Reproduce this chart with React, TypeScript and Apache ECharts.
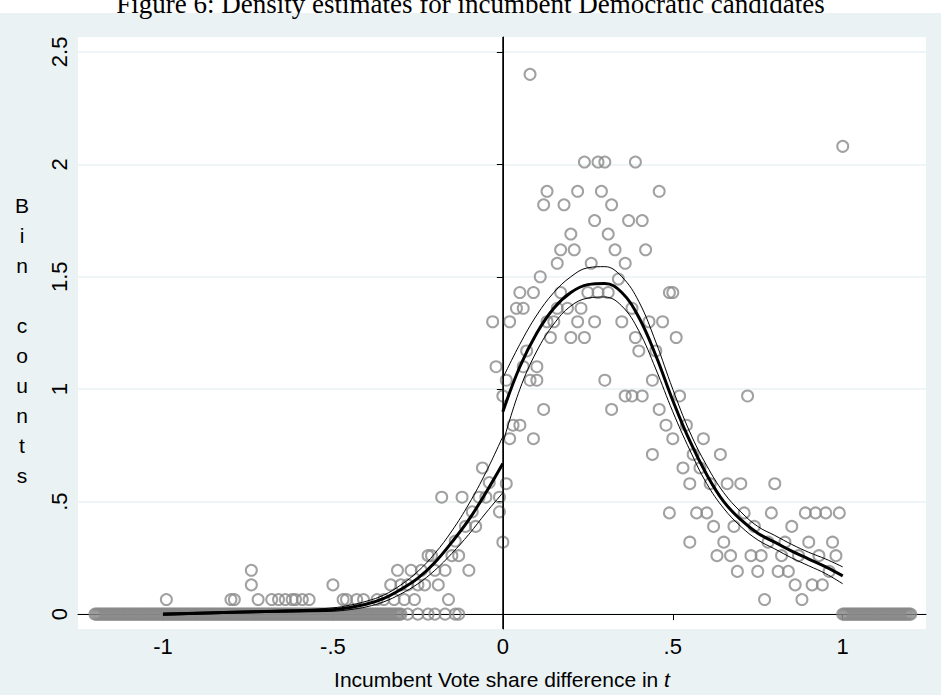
import { useEffect, useRef } from "react";
import * as echarts from "echarts";

// bin counts, [vote share difference, count]
const binPoints: [number, number][] = [
  [-0.99, 0.065], [-0.8, 0.065], [-0.79, 0.065], [-0.74, 0.195], [-0.74, 0.13], [-0.72, 0.065],
  [-0.68, 0.065], [-0.66, 0.065], [-0.64, 0.065], [-0.62, 0.065], [-0.61, 0.065], [-0.59, 0.065],
  [-0.57, 0.065], [-0.5, 0.13], [-0.47, 0.065], [-0.46, 0.065], [-0.43, 0.065], [-0.41, 0.065],
  [-0.37, 0.065], [-0.35, 0.065], [-0.33, 0.13], [-0.32, 0.065], [-0.31, 0.195], [-0.3, 0.13],
  [-0.29, 0.065], [-0.28, 0.13], [-0.27, 0.195], [-0.26, 0.065], [-0.25, 0.13], [-0.24, 0.195],
  [-0.23, 0.13], [-0.22, 0.26], [-0.21, 0.26], [-0.2, 0.195], [-0.19, 0.13], [-0.18, 0.52],
  [-0.17, 0.195], [-0.16, 0.065], [-0.15, 0.26], [-0.14, 0.325], [-0.13, 0.26], [-0.12, 0.52],
  [-0.11, 0.39], [-0.1, 0.195], [-0.09, 0.455], [-0.08, 0.39], [-0.07, 0.52], [-0.06, 0.65],
  [-0.05, 0.52], [-0.04, 0.585], [-0.03, 1.3], [-0.02, 1.1], [-0.01, 0.52], [-0.01, 0.455],
  [-0.28, 0], [-0.25, 0], [-0.2, 0], [-0.17, 0], [-0.14, 0], [-0.13, 0], [-0.22, 0],
  [0.0, 0.97], [0.0, 0.32], [0.01, 0.58], [0.01, 1.04], [0.02, 1.3], [0.02, 0.78], [0.03, 0.84],
  [0.04, 1.36], [0.05, 1.43], [0.05, 0.84], [0.06, 1.36], [0.06, 1.1], [0.07, 1.17], [0.08, 2.4],
  [0.08, 1.04], [0.09, 1.43], [0.09, 0.78], [0.1, 1.1], [0.1, 1.04], [0.11, 1.5], [0.12, 1.82],
  [0.12, 0.91], [0.13, 1.88], [0.13, 1.3], [0.14, 1.23], [0.15, 1.3], [0.16, 1.56], [0.16, 1.36],
  [0.17, 1.62], [0.17, 1.43], [0.18, 1.82], [0.19, 1.36], [0.2, 1.69], [0.2, 1.23], [0.21, 1.62],
  [0.22, 1.88], [0.22, 1.3], [0.23, 1.36], [0.24, 2.01], [0.24, 1.23], [0.25, 1.43], [0.26, 1.56],
  [0.27, 1.75], [0.27, 1.3], [0.28, 2.01], [0.28, 1.43], [0.29, 1.88], [0.3, 2.01], [0.3, 1.04],
  [0.31, 1.69], [0.31, 1.43], [0.32, 1.82], [0.32, 0.91], [0.33, 1.62], [0.34, 1.49], [0.35, 1.3],
  [0.36, 1.56], [0.36, 0.97], [0.37, 1.75], [0.38, 1.36], [0.38, 0.97], [0.39, 2.01], [0.39, 1.23],
  [0.4, 1.17], [0.41, 1.75], [0.41, 0.97], [0.42, 1.62], [0.43, 1.3], [0.44, 1.04], [0.44, 0.71],
  [0.45, 1.17], [0.46, 1.88], [0.46, 0.91], [0.47, 1.3], [0.48, 0.84], [0.49, 1.43], [0.49, 0.45],
  [0.5, 1.43], [0.5, 0.78], [0.51, 1.23], [0.52, 0.97], [0.53, 0.65], [0.54, 0.84], [0.55, 0.58],
  [0.55, 0.32], [0.56, 0.71], [0.57, 0.45], [0.58, 0.65], [0.59, 0.78], [0.6, 0.45], [0.61, 0.58],
  [0.62, 0.39], [0.63, 0.26], [0.64, 0.71], [0.65, 0.32], [0.66, 0.58], [0.67, 0.26], [0.68, 0.39],
  [0.69, 0.19], [0.7, 0.58], [0.71, 0.45], [0.72, 0.97], [0.73, 0.26], [0.74, 0.39], [0.75, 0.19],
  [0.76, 0.26], [0.77, 0.065], [0.78, 0.32], [0.79, 0.45], [0.8, 0.58], [0.81, 0.19], [0.82, 0.26],
  [0.83, 0.32], [0.84, 0.19], [0.85, 0.39], [0.86, 0.13], [0.87, 0.26], [0.88, 0.065], [0.89, 0.45],
  [0.9, 0.32], [0.91, 0.13], [0.92, 0.45], [0.93, 0.26], [0.94, 0.13], [0.95, 0.45], [0.96, 0.19],
  [0.97, 0.32], [0.98, 0.26], [0.99, 0.45], [1.0, 2.08],
];

// empty bins on the outer ranges (bin width 0.005)
const zeroRanges: [number, number][] = [[-1.2, -0.3], [1.0, 1.2]];

const leftFit: [number, number][] = [
  [-1, 0], [-0.8, 0.008], [-0.6, 0.015], [-0.5, 0.02], [-0.45, 0.03], [-0.4, 0.045], [-0.35, 0.07],
  [-0.3, 0.11], [-0.25, 0.16], [-0.2, 0.23], [-0.15, 0.32], [-0.1, 0.42], [-0.05, 0.54], [0, 0.67],
];
const leftUpper: [number, number][] = [
  [-1, 0.005], [-0.8, 0.012], [-0.6, 0.02], [-0.5, 0.028], [-0.45, 0.04], [-0.4, 0.058], [-0.35, 0.085],
  [-0.3, 0.13], [-0.25, 0.19], [-0.2, 0.27], [-0.15, 0.37], [-0.1, 0.49], [-0.05, 0.63], [0, 0.79],
];
const leftLower: [number, number][] = [
  [-1, -0.005], [-0.8, 0.004], [-0.6, 0.01], [-0.5, 0.013], [-0.45, 0.02], [-0.4, 0.033], [-0.35, 0.055],
  [-0.3, 0.09], [-0.25, 0.135], [-0.2, 0.195], [-0.15, 0.27], [-0.1, 0.355], [-0.05, 0.45], [0, 0.54],
];
const rightFit: [number, number][] = [
  [0, 0.9], [0.05, 1.1], [0.1, 1.25], [0.15, 1.36], [0.2, 1.43], [0.25, 1.465], [0.3, 1.47],
  [0.35, 1.43], [0.4, 1.32], [0.45, 1.15], [0.5, 0.95], [0.55, 0.77], [0.6, 0.62], [0.65, 0.5],
  [0.7, 0.42], [0.75, 0.36], [0.8, 0.32], [0.85, 0.28], [0.9, 0.245], [0.95, 0.21], [1, 0.17],
];
const rightUpper: [number, number][] = [
  [0, 1.05], [0.05, 1.2], [0.1, 1.33], [0.15, 1.43], [0.2, 1.5], [0.25, 1.54], [0.3, 1.545],
  [0.35, 1.5], [0.4, 1.39], [0.45, 1.21], [0.5, 1.0], [0.55, 0.81], [0.6, 0.66], [0.65, 0.54],
  [0.7, 0.455], [0.75, 0.39], [0.8, 0.35], [0.85, 0.31], [0.9, 0.275], [0.95, 0.245], [1, 0.21],
];
const rightLower: [number, number][] = [
  [0, 0.76], [0.05, 1.0], [0.1, 1.17], [0.15, 1.29], [0.2, 1.37], [0.25, 1.405], [0.3, 1.41],
  [0.35, 1.37], [0.4, 1.26], [0.45, 1.09], [0.5, 0.9], [0.55, 0.73], [0.6, 0.58], [0.65, 0.47],
  [0.7, 0.39], [0.75, 0.33], [0.8, 0.29], [0.85, 0.25], [0.9, 0.215], [0.95, 0.18], [1, 0.135],
];

const xTicks = [-1, -0.5, 0, 0.5, 1];
const xTickLabels = ["-1", "-.5", "0", ".5", "1"];
const yTicks = [0, 0.5, 1, 1.5, 2, 2.5];
const yTickLabels = ["0", ".5", "1", "1.5", "2", "2.5"];

const App = () => {
  const chartRef = useRef<HTMLDivElement>(null);

  useEffect(() => {
    document.body.style.margin = "0";
    if (!chartRef.current) return;
    const chart = echarts.init(chartRef.current, null, { renderer: "svg" });

    const zeros: [number, number][] = [];
    zeroRanges.forEach(([a, b]) => {
      for (let i = 0; a + i * 0.005 <= b + 1e-9; i++) zeros.push([a + i * 0.005, 0]);
    });

    const line = (data: [number, number][], w: number) => ({
      type: "line",
      data,
      smooth: 0.4,
      showSymbol: false,
      lineStyle: { color: "#000", width: w },
      z: 5,
    });

    chart.setOption({
      animation: false,
      backgroundColor: "#fff",
      textStyle: { fontFamily: "Liberation Sans, Arial, sans-serif" },
      graphic: [
        { type: "rect", z: -10, shape: { x: 0, y: 13, width: 941, height: 682 }, style: { fill: "#eaf2f3" } },
        {
          type: "text", left: "center", top: -10,
          style: { text: "Figure 6: Density estimates for incumbent Democratic candidates", font: "27px 'Liberation Serif', serif", fill: "#000" },
        },
        {
          type: "text", x: 22, y: 190,
          style: { text: "B\ni\nn\n\nc\no\nu\nn\nt\ns", font: "21px 'Liberation Sans', sans-serif", lineHeight: 30, align: "center", fill: "#000" },
        },
      ],
      grid: { left: 78, right: 15, top: 37, bottom: 63, show: true, backgroundColor: "#fff", borderWidth: 0 },
      xAxis: {
        type: "value", min: -1.25, max: 1.245,
        axisLine: { lineStyle: { color: "#000", width: 1 } },
        axisTick: { show: true, length: 6, lineStyle: { color: "#000" }, customValues: xTicks },
        axisLabel: {
          color: "#000", fontSize: 22, margin: 6,
          customValues: xTicks,
          formatter: (v: number) => xTickLabels[xTicks.indexOf(v)],
        },
        splitLine: { show: false },
        name: "{a|Incumbent Vote share difference in }{b|t}",
        nameLocation: "middle", nameGap: 40,
        nameTextStyle: { rich: { a: { fontSize: 21, color: "#000" }, b: { fontSize: 21, color: "#000", fontStyle: "italic" } } },
      },
      yAxis: {
        type: "value", min: -0.066, max: 2.566,
        axisLine: { show: true, lineStyle: { color: "#000", width: 1 } },
        axisTick: { show: true, length: 6, lineStyle: { color: "#000" }, customValues: yTicks },
        axisLabel: {
          color: "#000", fontSize: 22, rotate: 90, margin: 8,
          customValues: yTicks,
          formatter: (v: number) => yTickLabels[yTicks.indexOf(v)],
        },
        splitLine: { show: true, lineStyle: { color: "#eaf2f3", width: 1.5 } },
      },
      series: [
        {
          type: "scatter",
          data: [...zeros, ...binPoints],
          symbol: "circle",
          symbolSize: 11,
          itemStyle: { color: "rgba(0,0,0,0)", borderColor: "#8a8a8a", borderWidth: 2 },
          markLine: {
            silent: true, symbol: "none", label: { show: false },
            lineStyle: { color: "#000", width: 1.5, type: "solid" },
            data: [{ xAxis: 0 }],
          },
        },
        line(leftFit, 3), line(leftUpper, 1), line(leftLower, 1),
        line(rightFit, 3), line(rightUpper, 1), line(rightLower, 1),
      ],
    });

    return () => chart.dispose();
  }, []);

  return <div ref={chartRef} style={{ width: 941, height: 695 }} />;
};

export default App;
